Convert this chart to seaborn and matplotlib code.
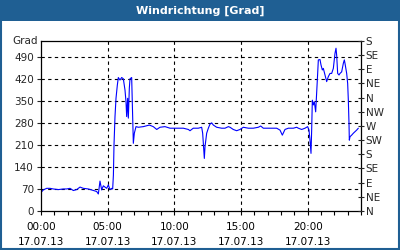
import matplotlib
matplotlib.use("Agg")
import matplotlib.pyplot as plt
import seaborn as sns
import pandas as pd
from matplotlib.patches import Rectangle

# ---- data ----
hours = [0.0, 0.175, 0.425, 0.675, 0.925, 1.3, 1.675, 1.925, 2.175, 2.425, 2.675, 2.925,
         3.175, 3.55, 3.925, 4.175, 4.3, 4.425, 4.55, 4.675, 4.925, 5.05, 5.175, 5.3, 5.375,
         5.43, 5.475, 5.55, 5.625, 5.725, 5.8, 5.925, 6.05, 6.175, 6.3, 6.375, 6.425, 6.5,
         6.55, 6.625, 6.675, 6.8, 6.875, 6.925, 7.0, 7.125, 7.3, 7.675, 8.125, 8.42, 8.68,
         8.925, 9.3, 9.675, 10.175, 10.675, 11.05, 11.175, 11.42, 11.8, 12.05, 12.125, 12.175,
         12.25, 12.3, 12.425, 12.55, 12.675, 12.8, 12.925, 13.175, 13.55, 13.8, 14.05, 14.175,
         14.42, 14.675, 14.925, 15.175, 15.55, 15.925, 16.3, 16.475, 16.675, 17.175, 17.675,
         17.925, 18.1, 18.3, 18.55, 18.925, 19.175, 19.3, 19.55, 19.8, 20.0, 20.1, 20.175,
         20.25, 20.3, 20.35, 20.425, 20.5, 20.6, 20.675, 20.75, 20.8, 20.925, 21.0, 21.1,
         21.175, 21.3, 21.425, 21.55, 21.675, 21.8, 21.925, 22.0, 22.05, 22.125, 22.175, 22.25,
         22.35, 22.425, 22.55, 22.675, 22.75, 22.8, 22.925, 23.0, 23.05, 23.1, 23.125, 23.175,
         23.3, 23.425, 23.55, 23.675, 23.8]
degrees = [59, 67, 72, 72, 70, 68, 70, 70, 72, 65, 68, 76,
           72, 70, 65, 62, 54, 95, 67, 80, 72, 83, 68, 72, 70,
           114, 210, 300, 358, 400, 424, 416, 424, 420, 384, 347, 300, 358,
           295, 390, 420, 424, 305, 215, 247, 268, 266, 268, 273, 268, 259,
           266, 268, 263, 263, 263, 259, 255, 263, 263, 266, 247, 215,
           167, 204, 247, 263, 276, 280, 273, 266, 263, 263, 268, 266,
           259, 255, 259, 266, 263, 263, 266, 270, 263, 263, 263,
           257, 241, 259, 263, 263, 266, 263, 259, 263, 268, 257, 225,
           183, 257, 352, 337, 347, 315, 374, 437, 480, 481, 464, 448,
           453, 432, 411, 427, 437, 437, 453, 480, 501, 517, 495, 437,
           432, 437, 442, 469, 480, 469, 437, 405, 352, 278, 225, 236,
           241, 247, 252, 257, 263]

left_ticks = [0, 70, 140, 210, 280, 350, 420, 490]
right_ticks = [0, 45, 90, 135, 180, 225, 270, 315, 360, 405, 450, 495, 540]
right_labels = ["N", "NE", "E", "SE", "S", "SW", "W", "NW", "N", "NE", "E", "SE", "S"]
x_major = [0, 5, 10, 15, 20]
x_labels = ["00:00\n17.07.13", "05:00\n17.07.13", "10:00\n17.07.13",
            "15:00\n17.07.13", "20:00\n17.07.13"]
title = "Windrichtung [Grad]"
unit = "Grad"

# ---- plot ----
sns.set_style("white")
plt.rcParams["font.family"] = ["DejaVu Sans"]
FS = 7.5
BLUE_FRAME = "#1f5f93"

fig = plt.figure(figsize=(4, 2.5), dpi=100)
fig.patch.set_facecolor("white")
ax = fig.add_axes([41/400, 1 - 211/250, 320/400, 170/250])

df = pd.DataFrame({"h": hours, "deg": degrees})
sns.lineplot(data=df, x="h", y="deg", ax=ax, color="#0000ff", linewidth=0.8)

ax.set_xlim(0, 24)
ax.set_ylim(0, 540)
ax.set_xlabel("")
ax.set_ylabel("")

ax.set_xticks(x_major)
ax.set_xticklabels(x_labels, fontsize=FS, linespacing=1.6)
ax.set_xticks(range(0, 25), minor=True)
ax.tick_params(axis="x", which="both", direction="out", length=3, width=0.8,
               colors="black", pad=5, bottom=True)
ax.set_yticks(left_ticks)
ax.set_yticklabels([str(v) for v in left_ticks], fontsize=FS)
ax.tick_params(axis="y", direction="out", length=3, width=0.8, pad=2, left=True)

for v in left_ticks[1:]:
    ax.axhline(v, color="black", lw=0.8, ls=(0, (3, 3)), zorder=0)
for v in x_major[1:]:
    ax.axvline(v, color="black", lw=0.8, ls=(0, (3, 3)), zorder=0)

for s in ax.spines.values():
    s.set_visible(True)
    s.set_color("black")
    s.set_linewidth(0.9)

ax2 = ax.twinx()
ax2.set_ylim(0, 540)
ax2.set_yticks(right_ticks)
ax2.set_yticklabels(right_labels, fontsize=FS)
ax2.tick_params(axis="y", direction="inout", length=5, width=0.8, pad=1)
for s in ax2.spines.values():
    s.set_visible(False)

ax.text(-0.01, 1.0, unit, transform=ax.transAxes, ha="right", va="center",
        fontsize=FS)

# title bar and frame
fig.patches.append(Rectangle((0, 1 - 21/250), 1, 21/250, transform=fig.transFigure,
                             facecolor=BLUE_FRAME, edgecolor="none", zorder=-1))
fig.text(0.5, 1 - 10.5/250, title, ha="center", va="center", color="white",
         fontsize=8, fontweight="bold")
fig.patches.append(Rectangle((0.0025, 0.004), 0.995, 0.992, transform=fig.transFigure,
                             facecolor="none", edgecolor=BLUE_FRAME, linewidth=1.5,
                             zorder=10))

fig.savefig("out.png", dpi=100, facecolor="white")
